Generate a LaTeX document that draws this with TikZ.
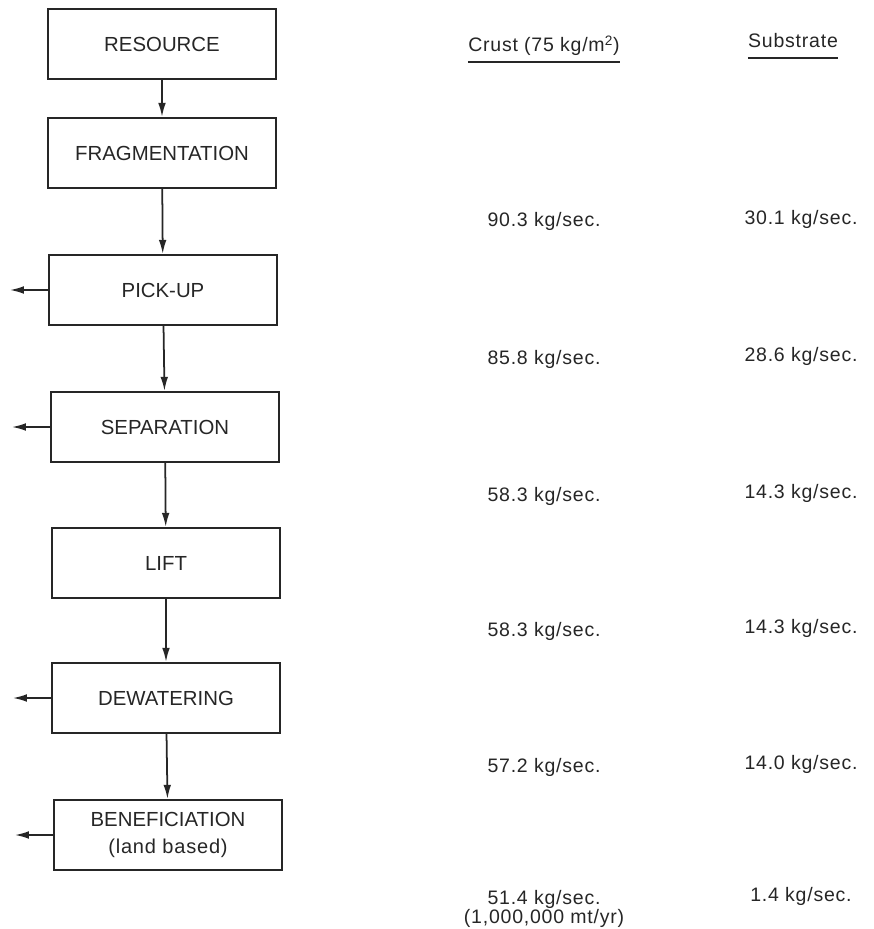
\documentclass[tikz,border=0pt]{standalone}
\usepackage{fontspec}
\setmainfont{Liberation Sans}
\newfontfamily\ratefont[LetterSpace=4]{Liberation Sans}
\usetikzlibrary{arrows.meta, positioning}

\begin{document}
\begin{tikzpicture}[x=0.02cm, y=-0.02cm,
    stage/.style={draw=black!85, line width=1.3pt, minimum width=4.56cm,
      minimum height=1.4cm, align=center, text=black!85,
      font=\fontsize{11.6}{13}\selectfont},
    flow/.style={draw=black!85, line width=1pt, -{Latex[length=8pt,width=4.4pt]}},
    rate/.style={anchor=base, inner sep=0pt, text=black!85,
      font=\ratefont\fontsize{11.1}{13}\selectfont}]
  \useasboundingbox (0,0) rectangle (873,929);

  % process stages, top to bottom
  \foreach \nm/\xx/\yy/\txt in {res/162/44/RESOURCE, frag/162/153/FRAGMENTATION,
      pick/163/290/PICK-UP, sep/165/427/SEPARATION, lift/166/563/LIFT,
      dew/166/698/DEWATERING,
      ben/168/835/{BENEFICIATION\\[2pt]{\ratefont\fontsize{11.4}{13}\selectfont(land based)}}} {
    \node[stage] (\nm) at (\xx,\yy) {\txt};
  }

  % main flow down the chain
  \foreach \a/\b in {res/frag, frag/pick, pick/sep, sep/lift, lift/dew, dew/ben} {
    \draw[flow] (\a) -- (\b);
  }

  % rejects leaving to the left
  \foreach \nm in {pick, sep, dew, ben} {
    \path (\nm.west) ++(-38,0) coordinate (\nm-out);
    \draw[flow] (\nm.west) -- (\nm-out);
  }

  % column heads
  \node[rate] (hcrust) at (544,52) {Crust (75 kg/m\textsuperscript{2})};
  \node[rate] (hsub) at (793,48) {Substrate};
  \draw[black!85, line width=0.9pt] ([yshift=-5.7pt]hcrust.base west) -- ([yshift=-5.7pt]hcrust.base east);
  \draw[black!85, line width=0.9pt] ([yshift=-5.7pt]hsub.base west) -- ([yshift=-5.7pt]hsub.base east);

  % mass flow rates between the stages
  \foreach \i/\yy/\c/\s in {1/227/90.3/30.1, 2/364/85.8/28.6, 3/501/58.3/14.3,
      4/636/58.3/14.3, 5/772/57.2/14.0, 6/904/51.4/1.4} {
    \node[rate] (crust\i) at (544,\yy) {\c\ kg/sec.};
    \node[rate] (sub\i) at (801,\yy-3) {\s\ kg/sec.};
  }
  \node[rate, below=3pt of crust6.base] (crustyr) {(1,000,000 mt/yr)};
\end{tikzpicture}
\end{document}
